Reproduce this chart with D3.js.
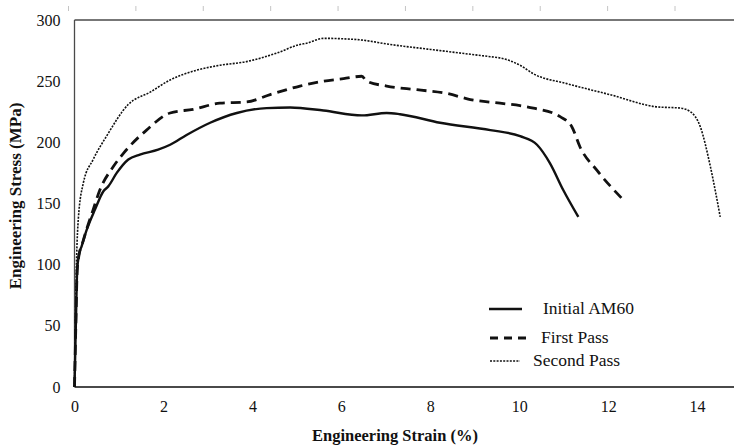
<!DOCTYPE html>
<html lang="en">
<head>
<meta charset="UTF-8">
<title>Engineering stress-strain</title>
<script src="https://cdn.jsdelivr.net/npm/d3@7"></script>
<style>
  body { margin: 0; background: #fff; }
  text { font-family: "Liberation Serif", "DejaVu Serif", serif; fill: #111; }
</style>
</head>
<body>
<svg width="734" height="446"></svg>
<script>
// tick labels
var xTicks = [0, 2, 4, 6, 8, 10, 12, 14]
var yTicks = [0, 50, 100, 150, 200, 250, 300]

// Initial AM60
var strainInitial = [0, 0.03, 0.06, 0.1, 0.16, 0.27, 0.46, 0.65, 0.76, 0.95, 1.21, 1.47, 1.88, 2.15, 2.52, 3.05, 3.65, 4.32, 4.85, 5.6, 6.46, 7.02, 7.32, 8.22, 9.35, 10.02, 10.4, 10.69, 10.99, 11.33]
var stressInitial = [0, 50, 95, 108, 115, 128, 145, 160, 164, 175, 186, 190, 194, 198, 206, 216, 224, 228, 228.5, 226, 222, 224, 223, 216, 210, 205, 198, 183, 161, 139]

// First Pass
var strainFirst = [0, 0.03, 0.06, 0.085, 0.2, 0.42, 0.57, 0.87, 1.1, 1.62, 2.15, 2.67, 3.27, 3.87, 4.4, 5.07, 5.6, 6.05, 6.46, 6.57, 7.02, 7.7, 8.37, 8.9, 9.57, 10.02, 10.32, 10.92, 11.18, 11.37, 11.75, 12.34]
var stressFirst = [0, 50, 95, 104, 120, 145, 161, 180, 191, 210, 224, 227, 232, 233, 239, 246, 250, 252, 254, 250, 246, 243, 240, 235, 232, 230, 228, 221, 213, 196, 177, 153]

// Second Pass
var strainSecond = [0, 0.02, 0.04, 0.05, 0.085, 0.2, 0.42, 0.72, 1.21, 1.7, 2.15, 2.75, 3.27, 3.87, 4.55, 5.07, 5.22, 5.6, 6.35, 7.1, 8.22, 9.35, 9.57, 10.02, 10.32, 11.07, 12.04, 13.1, 13.62, 13.85, 14.07, 14.3, 14.52]
var stressSecond = [0, 50, 95, 109, 137, 167, 186, 205, 231, 241, 251, 259, 263, 266, 273, 280, 281, 285, 284, 280, 275, 270, 269, 263, 256, 248, 239, 229, 228, 225, 213, 180, 139]

var seriesNames = ["Initial AM60", "First Pass", "Second Pass"]

var svg = d3.select("svg")

// x runs on past 14 up to the right edge of the picture
var x = d3.scaleLinear().domain([0, 14.83]).range([74.5, 734])
var y = d3.scaleLinear().domain([0, 300]).range([387, 20])

// faint ruler marks along the very top
var ruler = d3.scaleLinear().domain([0, 9]).range([68.5, 675])
svg.append("g").selectAll("line").data(d3.range(10)).enter().append("line")
    .attr("x1", d => ruler(d)).attr("x2", d => ruler(d))
    .attr("y1", 6).attr("y2", 11)
    .attr("stroke", "#c4c4c4").attr("stroke-width", 1)

// frame: left, top, bottom
var frame = svg.append("g").attr("stroke", "#4a4a4a").attr("fill", "none")
frame.append("line").attr("x1", x(0)).attr("x2", x(0)).attr("y1", y(300)).attr("y2", y(0)).attr("stroke-width", 1.3)
frame.append("line").attr("x1", x(0)).attr("x2", 734).attr("y1", y(300)).attr("y2", y(300)).attr("stroke-width", 1.6)
frame.append("line").attr("x1", x(0)).attr("x2", 734).attr("y1", y(0)).attr("y2", y(0)).attr("stroke-width", 1.8)

// axes with no tick marks, just labels
var xAxis = svg.append("g").attr("transform", `translate(0,${y(0)})`)
    .call(d3.axisBottom(x).tickValues(xTicks).tickSize(0).tickPadding(14))
xAxis.select(".domain").remove()
xAxis.selectAll("text").style("font-size", "16px").attr("fill", "#111")

var yAxis = svg.append("g").attr("transform", `translate(${x(0)},0)`)
    .call(d3.axisLeft(y).tickValues(yTicks).tickSize(0).tickPadding(14))
yAxis.select(".domain").remove()
yAxis.selectAll("text").style("font-size", "16px").attr("fill", "#111")

// titles
svg.append("text").attr("x", 395).attr("y", 441)
    .attr("text-anchor", "middle").style("font-size", "16.5px").style("font-weight", "bold")
    .text("Engineering Strain (%)")
svg.append("text").attr("transform", "translate(21,196) rotate(-90)")
    .attr("text-anchor", "middle").style("font-size", "17px").style("font-weight", "bold")
    .text("Engineering Stress (MPa)")

// curves
var styles = [
    {w: 2.4, dash: null},
    {w: 2.8, dash: "10,6"},
    {w: 1.6, dash: "2,1.3"}
]
var series = [
    d3.zip(strainInitial, stressInitial),
    d3.zip(strainFirst, stressFirst),
    d3.zip(strainSecond, stressSecond)
]
var line = d3.line().x(d => x(d[0])).y(d => y(d[1])).curve(d3.curveMonotoneX)

svg.append("g").selectAll("path").data(series).enter().append("path")
    .attr("d", line)
    .attr("fill", "none")
    .attr("stroke", "#111")
    .attr("stroke-width", (d, i) => styles[i].w)
    .attr("stroke-dasharray", (d, i) => styles[i].dash)

// legend
var legend = svg.append("g")
var legY = [309, 338, 361]
var legX1 = [489, 490, 490]
var legX2 = [522, 528, 520]
var legTx = [543, 541, 533]
legend.selectAll("line").data(seriesNames).enter().append("line")
    .attr("x1", (d, i) => legX1[i]).attr("x2", (d, i) => legX2[i])
    .attr("y1", (d, i) => legY[i]).attr("y2", (d, i) => legY[i])
    .attr("stroke", "#111")
    .attr("stroke-width", (d, i) => styles[i].w)
    .attr("stroke-dasharray", (d, i) => i == 1 ? "8,6" : styles[i].dash)
legend.selectAll("text").data(seriesNames).enter().append("text")
    .attr("x", (d, i) => legTx[i]).attr("y", (d, i) => legY[i] + 5)
    .style("font-size", "17.5px")
    .text(d => d)
</script>
</body>
</html>
